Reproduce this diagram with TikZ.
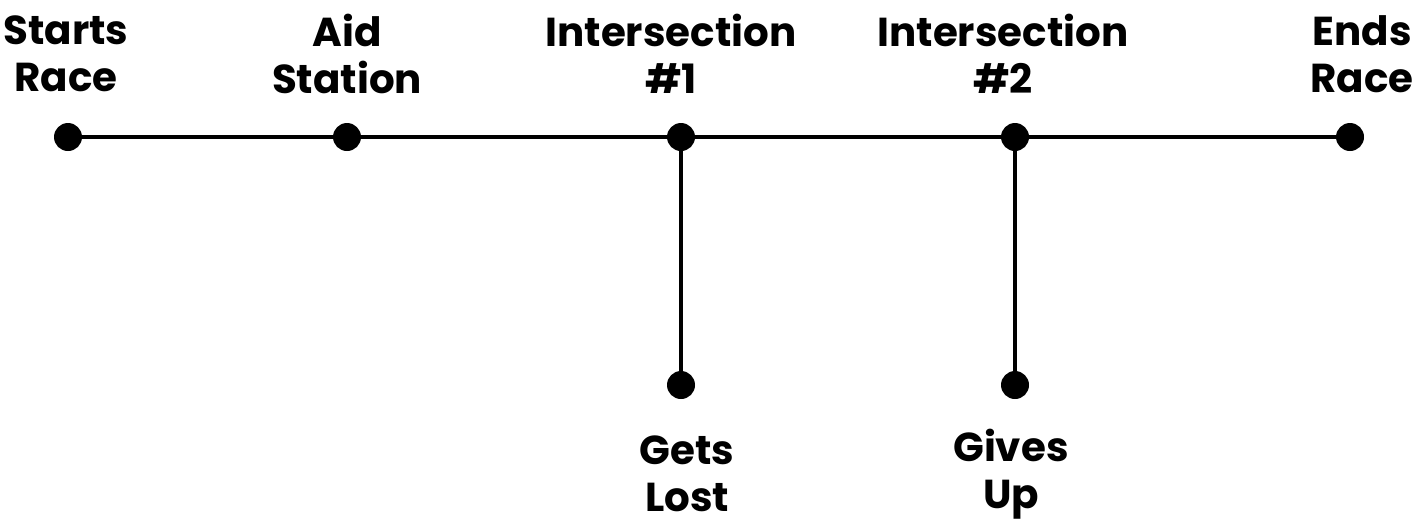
\documentclass[tikz,border=0pt]{standalone}
\usepackage{fontspec}
\setmainfont{Poppins}[BoldFont={* Bold}]
\begin{document}
\begin{tikzpicture}[x=0.02cm,y=-0.02cm,
  dot/.style={circle,fill=black,inner sep=0pt,minimum size=0.56cm},
  lbl/.style={align=center,font=\fontsize{23}{27}\selectfont\bfseries,inner sep=0pt},
  ln/.style={line width=2.2pt}]
\useasboundingbox (0,0) rectangle (1421,529);
\node[dot] (s) at (68,137) {};
\node[dot] (a) at (347,137) {};
\node[dot] (i1) at (681,137) {};
\node[dot] (i2) at (1015,137) {};
\node[dot] (e) at (1350,137) {};
\node[dot] (g) at (681,385) {};
\node[dot] (u) at (1015,385) {};
\draw[ln] (s)--(a)--(i1)--(i2)--(e);
\draw[ln] (i1)--(g);
\draw[ln] (i2)--(u);
\node[lbl] (ts) at (66,54) {Starts\\Race};
\node[lbl] (ta) at (347,54) {Aid\\Station};
\node[lbl] (t1) at (671,54) {Intersection\\\#1};
\node[lbl] (t2) at (1003,54) {Intersection\\\#2};
\node[lbl] (te) at (1362,54) {Ends\\Race};
\node[lbl] (tg) at (687,474) {Gets\\Lost};
\node[lbl] (tu) at (1011,474) {Gives\\Up};
\end{tikzpicture}
\end{document}
